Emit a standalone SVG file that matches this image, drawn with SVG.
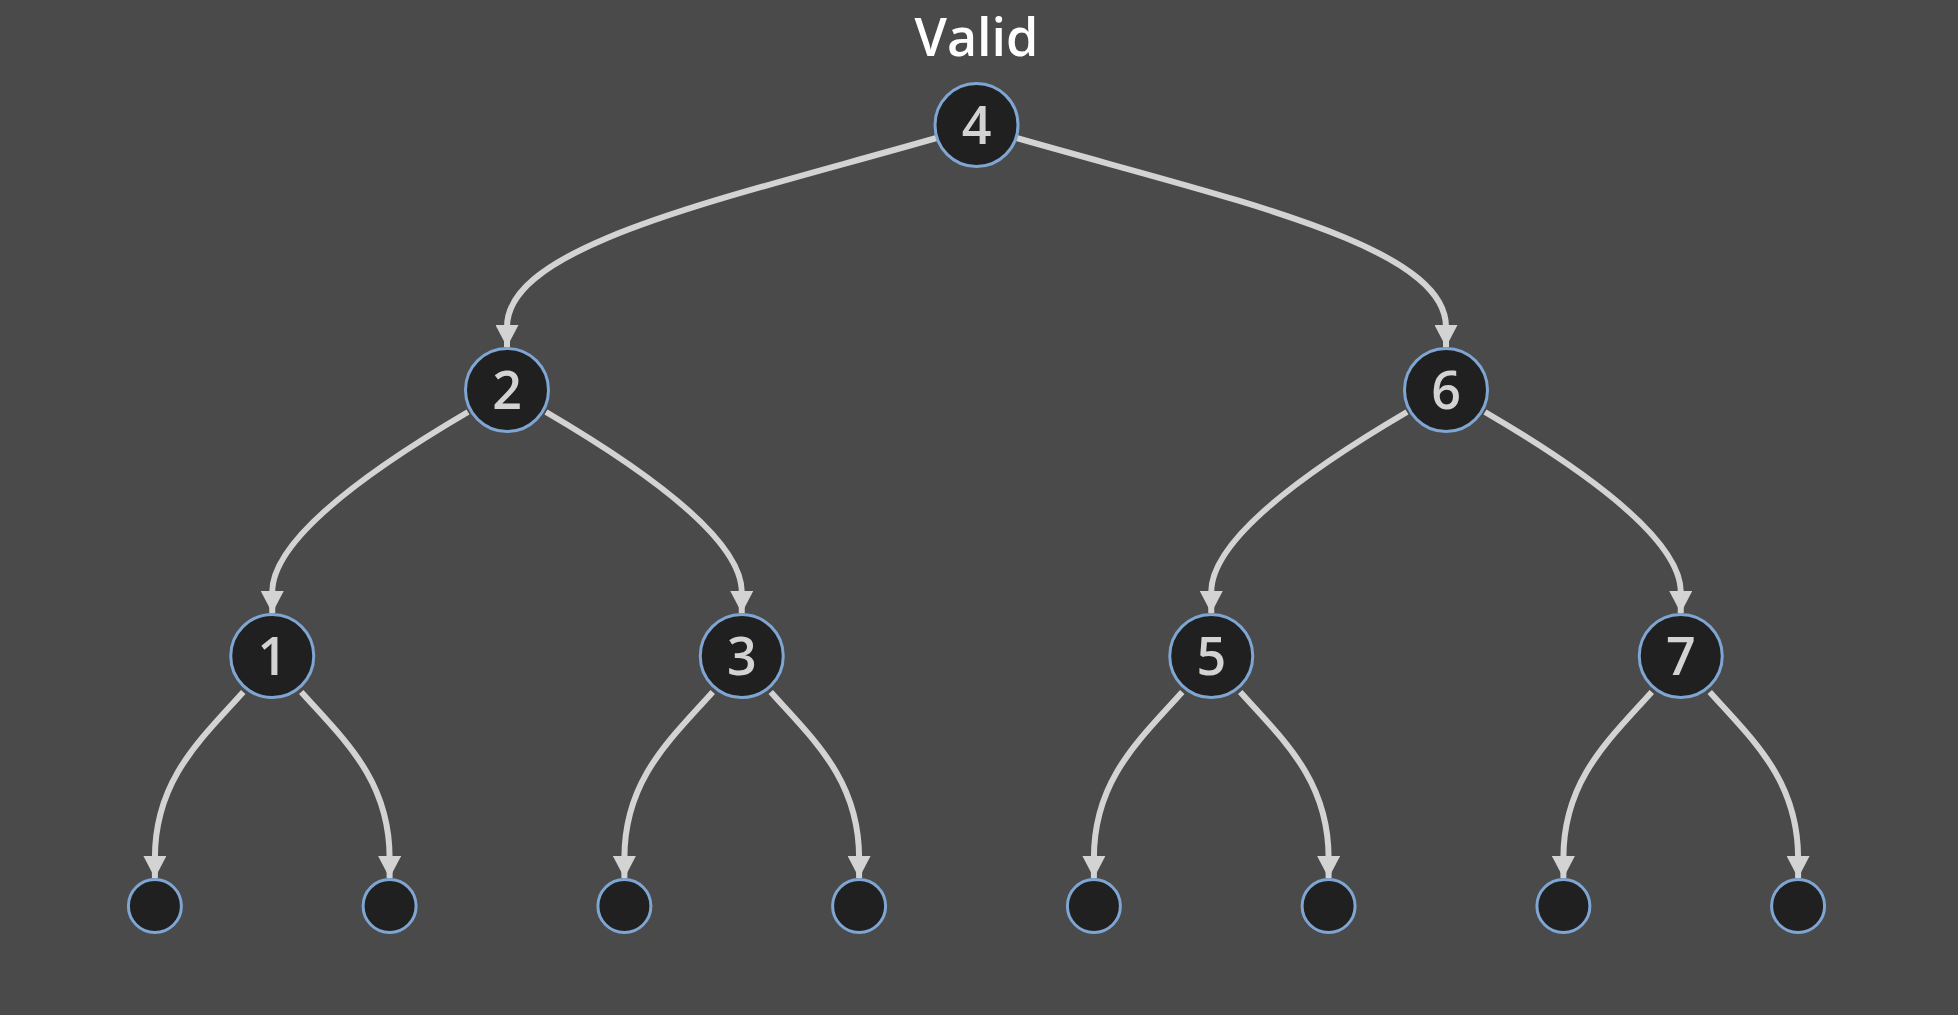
<svg xmlns="http://www.w3.org/2000/svg" width="1958" height="1015" viewBox="0 0 1958 1015">
<defs>
<style>
.node circle{fill:#202020;stroke:#7fa6d2;stroke-width:3}
.node text{font-family:"Open Sans","DejaVu Sans",sans-serif;font-size:52px;font-weight:600;fill:#d3d3d3;text-anchor:middle}
.edges path{fill:none;stroke:#d3d3d3;stroke-width:6;marker-end:url(#arrow)}
.title{font-family:"Open Sans","DejaVu Sans",sans-serif;font-size:52px;font-weight:600;fill:#ffffff;text-anchor:middle}
</style>
<marker id="arrow" viewBox="0 0 22 23" refX="22" refY="11.5" markerWidth="22" markerHeight="23" markerUnits="userSpaceOnUse" orient="auto">
<path d="M0,0 L22,11.5 L0,23 z" fill="#d3d3d3"/>
</marker>
</defs>
<rect width="1958" height="1015" fill="#4a4a4a"/>
<text class="title" x="976.5" y="56">Valid</text>
<g id="connectors" class="edges">
<path d="M 936.5 138 C 720 200, 507 245, 507 327 L 507 347"/>
<path d="M 1016.5 138 C 1233 200, 1446 245, 1446 327 L 1446 347"/>
<path d="M 468 412 C 410 446, 272.25 530, 272.25 592 L 272.25 613"/>
<path d="M 546 412 C 604 446, 741.75 530, 741.75 592 L 741.75 613"/>
<path d="M 1407 412 C 1349 446, 1211.25 530, 1211.25 592 L 1211.25 613"/>
<path d="M 1485 412 C 1543 446, 1680.75 530, 1680.75 592 L 1680.75 613"/>
<path d="M 243.25 692 C 200.25 740, 154.9 780, 154.9 858 L 154.9 878"/>
<path d="M 301.25 692 C 344.25 740, 389.6 780, 389.6 858 L 389.6 878"/>
<path d="M 712.75 692 C 669.75 740, 624.4 780, 624.4 858 L 624.4 878"/>
<path d="M 770.75 692 C 813.75 740, 859.1 780, 859.1 858 L 859.1 878"/>
<path d="M 1182.25 692 C 1139.25 740, 1093.9 780, 1093.9 858 L 1093.9 878"/>
<path d="M 1240.25 692 C 1283.25 740, 1328.6 780, 1328.6 858 L 1328.6 878"/>
<path d="M 1651.75 692 C 1608.75 740, 1563.4 780, 1563.4 858 L 1563.4 878"/>
<path d="M 1709.75 692 C 1752.75 740, 1798.1 780, 1798.1 858 L 1798.1 878"/>
</g>
<g id="n4" class="node"><circle cx="976.5" cy="125" r="41.5"/><text x="976.5" y="143.5">4</text></g>
<g id="n2" class="node"><circle cx="507" cy="390" r="41.5"/><text x="507" y="408.5">2</text></g>
<g id="n6" class="node"><circle cx="1446" cy="390" r="41.5"/><text x="1446" y="408.5">6</text></g>
<g id="n1" class="node"><circle cx="272.25" cy="656" r="41.5"/><text x="272.25" y="674.5">1</text></g>
<g id="n3" class="node"><circle cx="741.75" cy="656" r="41.5"/><text x="741.75" y="674.5">3</text></g>
<g id="n5" class="node"><circle cx="1211.25" cy="656" r="41.5"/><text x="1211.25" y="674.5">5</text></g>
<g id="n7" class="node"><circle cx="1680.75" cy="656" r="41.5"/><text x="1680.75" y="674.5">7</text></g>
<g id="leaf1" class="node"><circle cx="154.9" cy="906" r="26.5"/></g>
<g id="leaf2" class="node"><circle cx="389.6" cy="906" r="26.5"/></g>
<g id="leaf3" class="node"><circle cx="624.4" cy="906" r="26.5"/></g>
<g id="leaf4" class="node"><circle cx="859.1" cy="906" r="26.5"/></g>
<g id="leaf5" class="node"><circle cx="1093.9" cy="906" r="26.5"/></g>
<g id="leaf6" class="node"><circle cx="1328.6" cy="906" r="26.5"/></g>
<g id="leaf7" class="node"><circle cx="1563.4" cy="906" r="26.5"/></g>
<g id="leaf8" class="node"><circle cx="1798.1" cy="906" r="26.5"/></g>
</svg>
